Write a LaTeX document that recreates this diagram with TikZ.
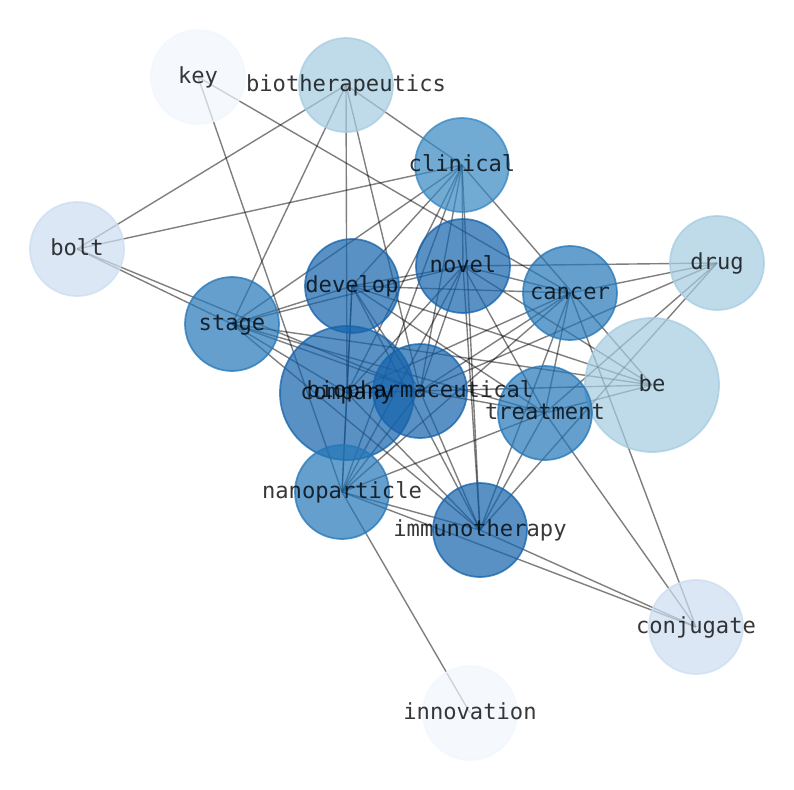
\documentclass[tikz,border=0pt]{standalone}
\usepackage{fontspec}
\newfontfamily\lblfont{DejaVu Sans Mono}
\begin{document}
\begin{tikzpicture}[x=0.75pt,y=-0.75pt,
  edge/.style={draw=black,draw opacity=0.5,line width=1.05pt},
  bubble/.style={circle,inner sep=0pt,minimum size=70.5pt,fill opacity=0.7,draw opacity=0.75,line width=1.3pt},
  bigbubble/.style={bubble,minimum size=100.5pt},
  lbl/.style={anchor=base,inner sep=0pt,text opacity=0.78,font=\lblfont\fontsize{16.6}{20}\selectfont}]
\definecolor{cA}{HTML}{F1F7FE}
\definecolor{cB}{HTML}{CCDEF1}
\definecolor{cC}{HTML}{A5CDE2}
\definecolor{cD}{HTML}{3688C3}
\definecolor{cE}{HTML}{2477B8}
\definecolor{cF}{HTML}{1563AC}
\useasboundingbox[fill=white] (0,0) rectangle (794,790);
\coordinate (K) at (198,77);
\coordinate (Bt) at (346,85);
\coordinate (Cl) at (462,165);
\coordinate (Bo) at (77,249);
\coordinate (Dr) at (717,263);
\coordinate (No) at (463,266);
\coordinate (De) at (352,286);
\coordinate (Ca) at (570,293);
\coordinate (St) at (232,324);
\coordinate (Be) at (652,385);
\coordinate (Co) at (347,393);
\coordinate (Bp) at (420,391);
\coordinate (Tr) at (545,413);
\coordinate (Na) at (342,492);
\coordinate (Im) at (480,530);
\coordinate (Cj) at (696,627);
\coordinate (In) at (470,713);
% edges
\foreach \a/\b in {K/Ca,K/Na,
  Bt/Bo,Bt/St,Bt/Co,Bt/Bp,Bt/Cl,
  Bo/Cl,Bo/St,Bo/Bp,
  Cl/St,Cl/De,Cl/Co,Cl/Bp,Cl/Na,Cl/No,Cl/Im,Cl/Be,
  No/De,No/Ca,No/Dr,No/Co,No/Bp,No/Na,No/Im,No/Tr,No/Be,No/St,
  De/St,De/Co,De/Ca,De/Bp,De/Im,De/Na,De/Tr,De/Be,
  Ca/Dr,Ca/Co,Ca/Bp,Ca/Tr,Ca/Im,Ca/Na,Ca/Cj,
  St/Co,St/Bp,St/Tr,St/Im,St/Be,
  Dr/Tr,Dr/Im,Dr/Bp,
  Be/Bp,Be/Tr,
  Tr/Bp,Tr/Im,Tr/Na,Tr/Cj,
  Im/Na,Im/Co,Im/Bp,Im/Cj,
  Na/In,Na/Co,Na/Bp,Na/Cj,
  Co/Bp}
  \draw[edge] (\a) -- (\b);
% nodes
\node[bubble,fill=cA,draw=cA] (nK) at (K) {};
\node[bubble,fill=cC,draw=cC] (nBt) at (Bt) {};
\node[bubble,fill=cD,draw=cD] (nCl) at (Cl) {};
\node[bubble,fill=cB,draw=cB] (nBo) at (Bo) {};
\node[bubble,fill=cC,draw=cC] (nDr) at (Dr) {};
\node[bubble,fill=cF,draw=cF] (nNo) at (No) {};
\node[bubble,fill=cF,draw=cF] (nDe) at (De) {};
\node[bubble,fill=cE,draw=cE] (nCa) at (Ca) {};
\node[bubble,fill=cE,draw=cE] (nSt) at (St) {};
\node[bigbubble,fill=cC,draw=cC] (nBe) at (Be) {};
\node[bigbubble,fill=cF,draw=cF] (nCo) at (Co) {};
\node[bubble,fill=cF,draw=cF] (nBp) at (Bp) {};
\node[bubble,fill=cE,draw=cE] (nTr) at (Tr) {};
\node[bubble,fill=cE,draw=cE] (nNa) at (Na) {};
\node[bubble,fill=cF,draw=cF] (nIm) at (Im) {};
\node[bubble,fill=cB,draw=cB] (nCj) at (Cj) {};
\node[bubble,fill=cA,draw=cA] (nIn) at (In) {};
% labels
\foreach \c/\t in {K/key,Bt/biotherapeutics,Cl/clinical,Bo/bolt,Dr/drug,No/novel,De/develop,Ca/cancer,St/stage,Be/be,Co/company,Bp/biopharmaceutical,Tr/treatment,Na/nanoparticle,Im/immunotherapy,Cj/conjugate,In/innovation}
  \node[lbl] (l\c) at ([yshift=-4.5pt]\c) {\t};
\end{tikzpicture}
\end{document}
